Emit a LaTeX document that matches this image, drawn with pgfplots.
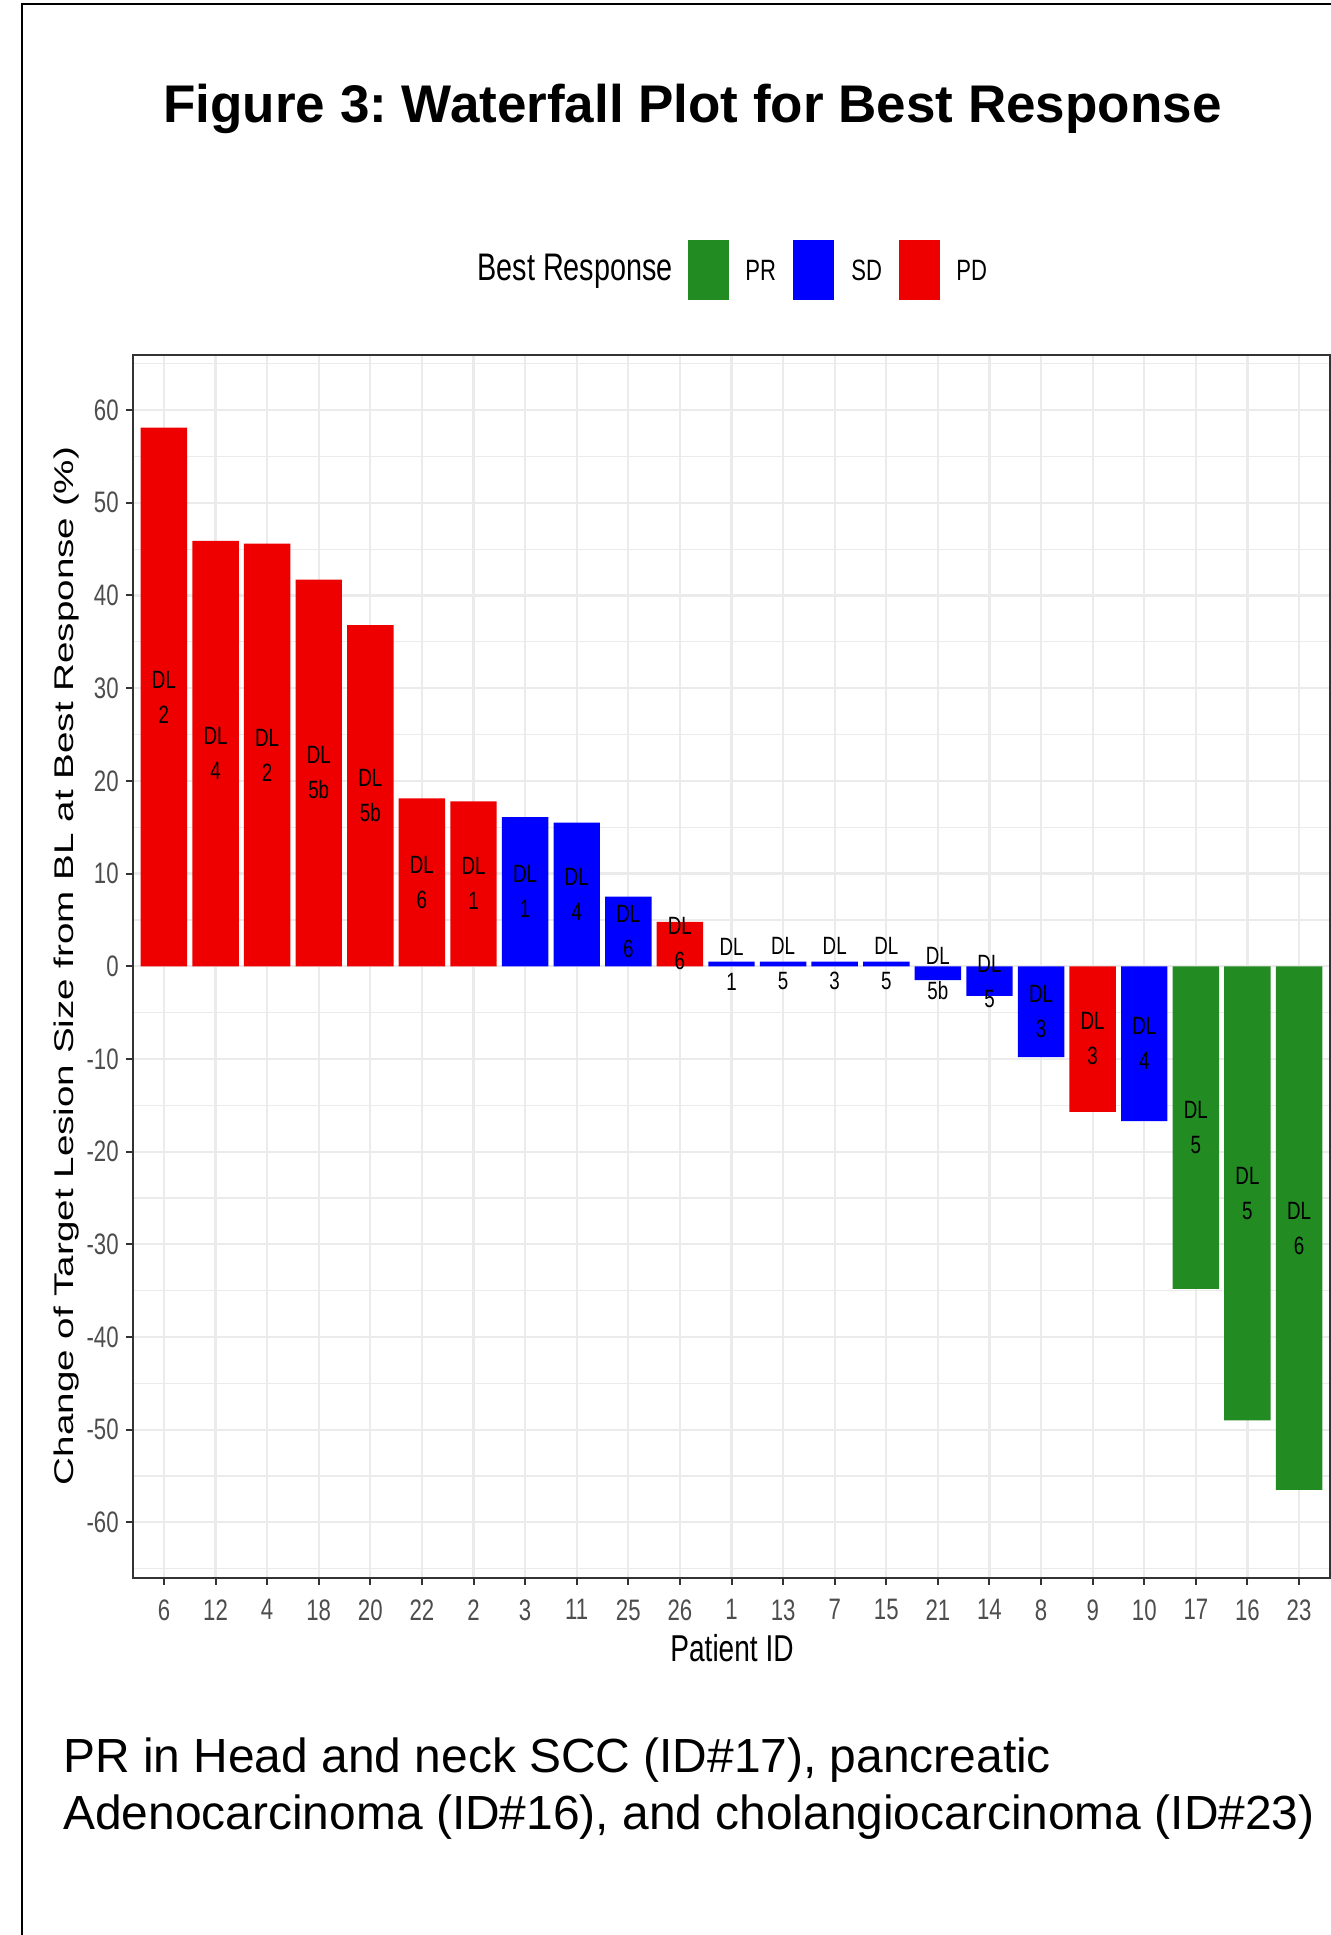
\documentclass[border=0pt]{standalone}
\usepackage{pgfplots}
\pgfplotsset{compat=1.18}
\usepackage{pgfplotstable}
\usepackage{fontspec}
\usepackage{graphicx}
\setmainfont{Liberation Sans}
\newfontfamily\cf[FakeStretch=0.75]{Liberation Sans}
\definecolor{pdred}{RGB}{238,0,0}
\definecolor{sdblue}{RGB}{0,0,255}
\definecolor{prgreen}{RGB}{34,139,34}
\definecolor{gridc}{RGB}{235,235,235}
\definecolor{tickc}{RGB}{77,77,77}
\definecolor{borderc}{RGB}{51,51,51}

\pgfplotstableread{
x y
0 58.1
1 45.9
2 45.6
3 41.7
4 36.8
5 18.1
6 17.8
10 4.8
18 -15.7
}\pdtable

\pgfplotstableread{
x y
7 16.1
8 15.5
9 7.5
11 0.5
12 0.5
13 0.5
14 0.5
15 -1.5
16 -3.2
17 -9.8
19 -16.7
}\sdtable

\pgfplotstableread{
x y
20 -34.8
21 -49.0
22 -56.5
}\prtable

\pgfplotstableread{
x y dl
0 58.1 2
1 45.9 4
2 45.6 2
3 41.7 5b
4 36.8 5b
5 18.1 6
6 17.8 1
7 16.1 1
8 15.5 4
9 7.5 6
10 4.8 6
11 0.5 1
12 0.5 5
13 0.5 3
14 0.5 5
15 -1.5 5b
16 -3.2 5
17 -9.8 3
18 -15.7 3
19 -16.7 4
20 -34.8 5
21 -49.0 5
22 -56.5 6
}\alltable

\begin{document}
\frenchspacing
\begin{tikzpicture}
\path[use as bounding box, fill=white] (0,0) rectangle (665.5pt,967.5pt);
\begin{axis}[
  at={(66.5pt,178.5pt)}, anchor=south west,
  width=598.5pt, height=611.75pt, scale only axis,
  xmin=-0.6, xmax=22.6, ymin=-66, ymax=66,
  clip=false,
  xtick={0,...,22},
  xticklabels={6,12,4,18,20,22,2,3,11,25,26,1,13,7,15,21,14,8,9,10,17,16,23},
  ytick={-60,-50,...,60},
  yticklabels={-60,-50,-40,-30,-20,-10,0,10,20,30,40,50,60},
  minor ytick={-65,-55,...,65},
  xmajorgrids, ymajorgrids, yminorgrids,
  major grid style={gridc, line width=1.1pt},
  minor grid style={gridc, line width=0.6pt},
  axis line style={borderc, line width=1pt},
  tick align=outside, major tick length=3.5pt, minor tick length=0pt,
  tick style={borderc, line width=1pt},
  xtick pos=bottom, ytick pos=left,
  ticklabel style={font=\cf\fontsize{14.8pt}{16pt}\selectfont, text=tickc, inner sep=0pt},
  xticklabel style={anchor=north, yshift=-7pt},
  yticklabel style={anchor=east, xshift=-3.5pt},
]
\addplot[ybar, bar width=0.9, bar shift=0pt, fill=pdred, draw=none] table[x=x,y=y] {\pdtable};
\addplot[ybar, bar width=0.9, bar shift=0pt, fill=sdblue, draw=none] table[x=x,y=y] {\sdtable};
\addplot[ybar, bar width=0.9, bar shift=0pt, fill=prgreen, draw=none] table[x=x,y=y] {\prtable};
\addplot[draw=none, mark=none, point meta=explicit symbolic,
  nodes near coords={DL\\\pgfplotspointmeta},
  every node near coord/.append style={anchor=center, inner sep=0pt, align=center,
    font=\cf\fontsize{12.5pt}{17.5pt}\selectfont, text=black}]
  table[x=x, y expr=\thisrow{y}/2, meta=dl] {\alltable};
\end{axis}
% outer frame
\draw[line width=1pt, black] (10.85pt,0pt) -- (10.85pt,965.35pt) -- (665.5pt,965.35pt);
% title
\node[anchor=base west, inner sep=0pt, font=\bfseries\fontsize{26.5pt}{30pt}\selectfont] at (81.5pt,906pt) {Figure 3: Waterfall Plot for Best Response};
% legend
\node[anchor=base west, inner sep=0pt, font=\cf\fontsize{19.2pt}{22pt}\selectfont] at (238.5pt,827pt) {Best Response};
\fill[prgreen] (344pt,817.5pt) rectangle (364.5pt,847.5pt);
\fill[sdblue] (396.5pt,817.5pt) rectangle (417pt,847.5pt);
\fill[pdred] (449.5pt,817.5pt) rectangle (470pt,847.5pt);
\node[anchor=base west, inner sep=0pt, font=\cf\fontsize{14.7pt}{17pt}\selectfont] at (372.5pt,827pt) {PR};
\node[anchor=base west, inner sep=0pt, font=\cf\fontsize{14.7pt}{17pt}\selectfont] at (425.5pt,827pt) {SD};
\node[anchor=base west, inner sep=0pt, font=\cf\fontsize{14.7pt}{17pt}\selectfont] at (478pt,827pt) {PD};
% axis titles
\node[anchor=base, inner sep=0pt, font=\cf\fontsize{18.7pt}{22pt}\selectfont] at (366pt,136.5pt) {Patient ID};
\node[anchor=base, inner sep=0pt, rotate=90] at (36.65pt,484.5pt) {\scalebox{1}[0.7]{\fontsize{19.3pt}{23pt}\selectfont Change of Target Lesion Size from BL at Best Response (\%)}};
% caption
\node[anchor=base west, inner sep=0pt, font=\fontsize{23.95pt}{28.5pt}\selectfont] at (31.5pt,81pt) {PR in Head and neck SCC (ID\#17), pancreatic};
\node[anchor=base west, inner sep=0pt, font=\fontsize{23.95pt}{28.5pt}\selectfont] at (31.5pt,52.5pt) {Adenocarcinoma (ID\#16), and cholangiocarcinoma (ID\#23)};
\end{tikzpicture}
\end{document}
